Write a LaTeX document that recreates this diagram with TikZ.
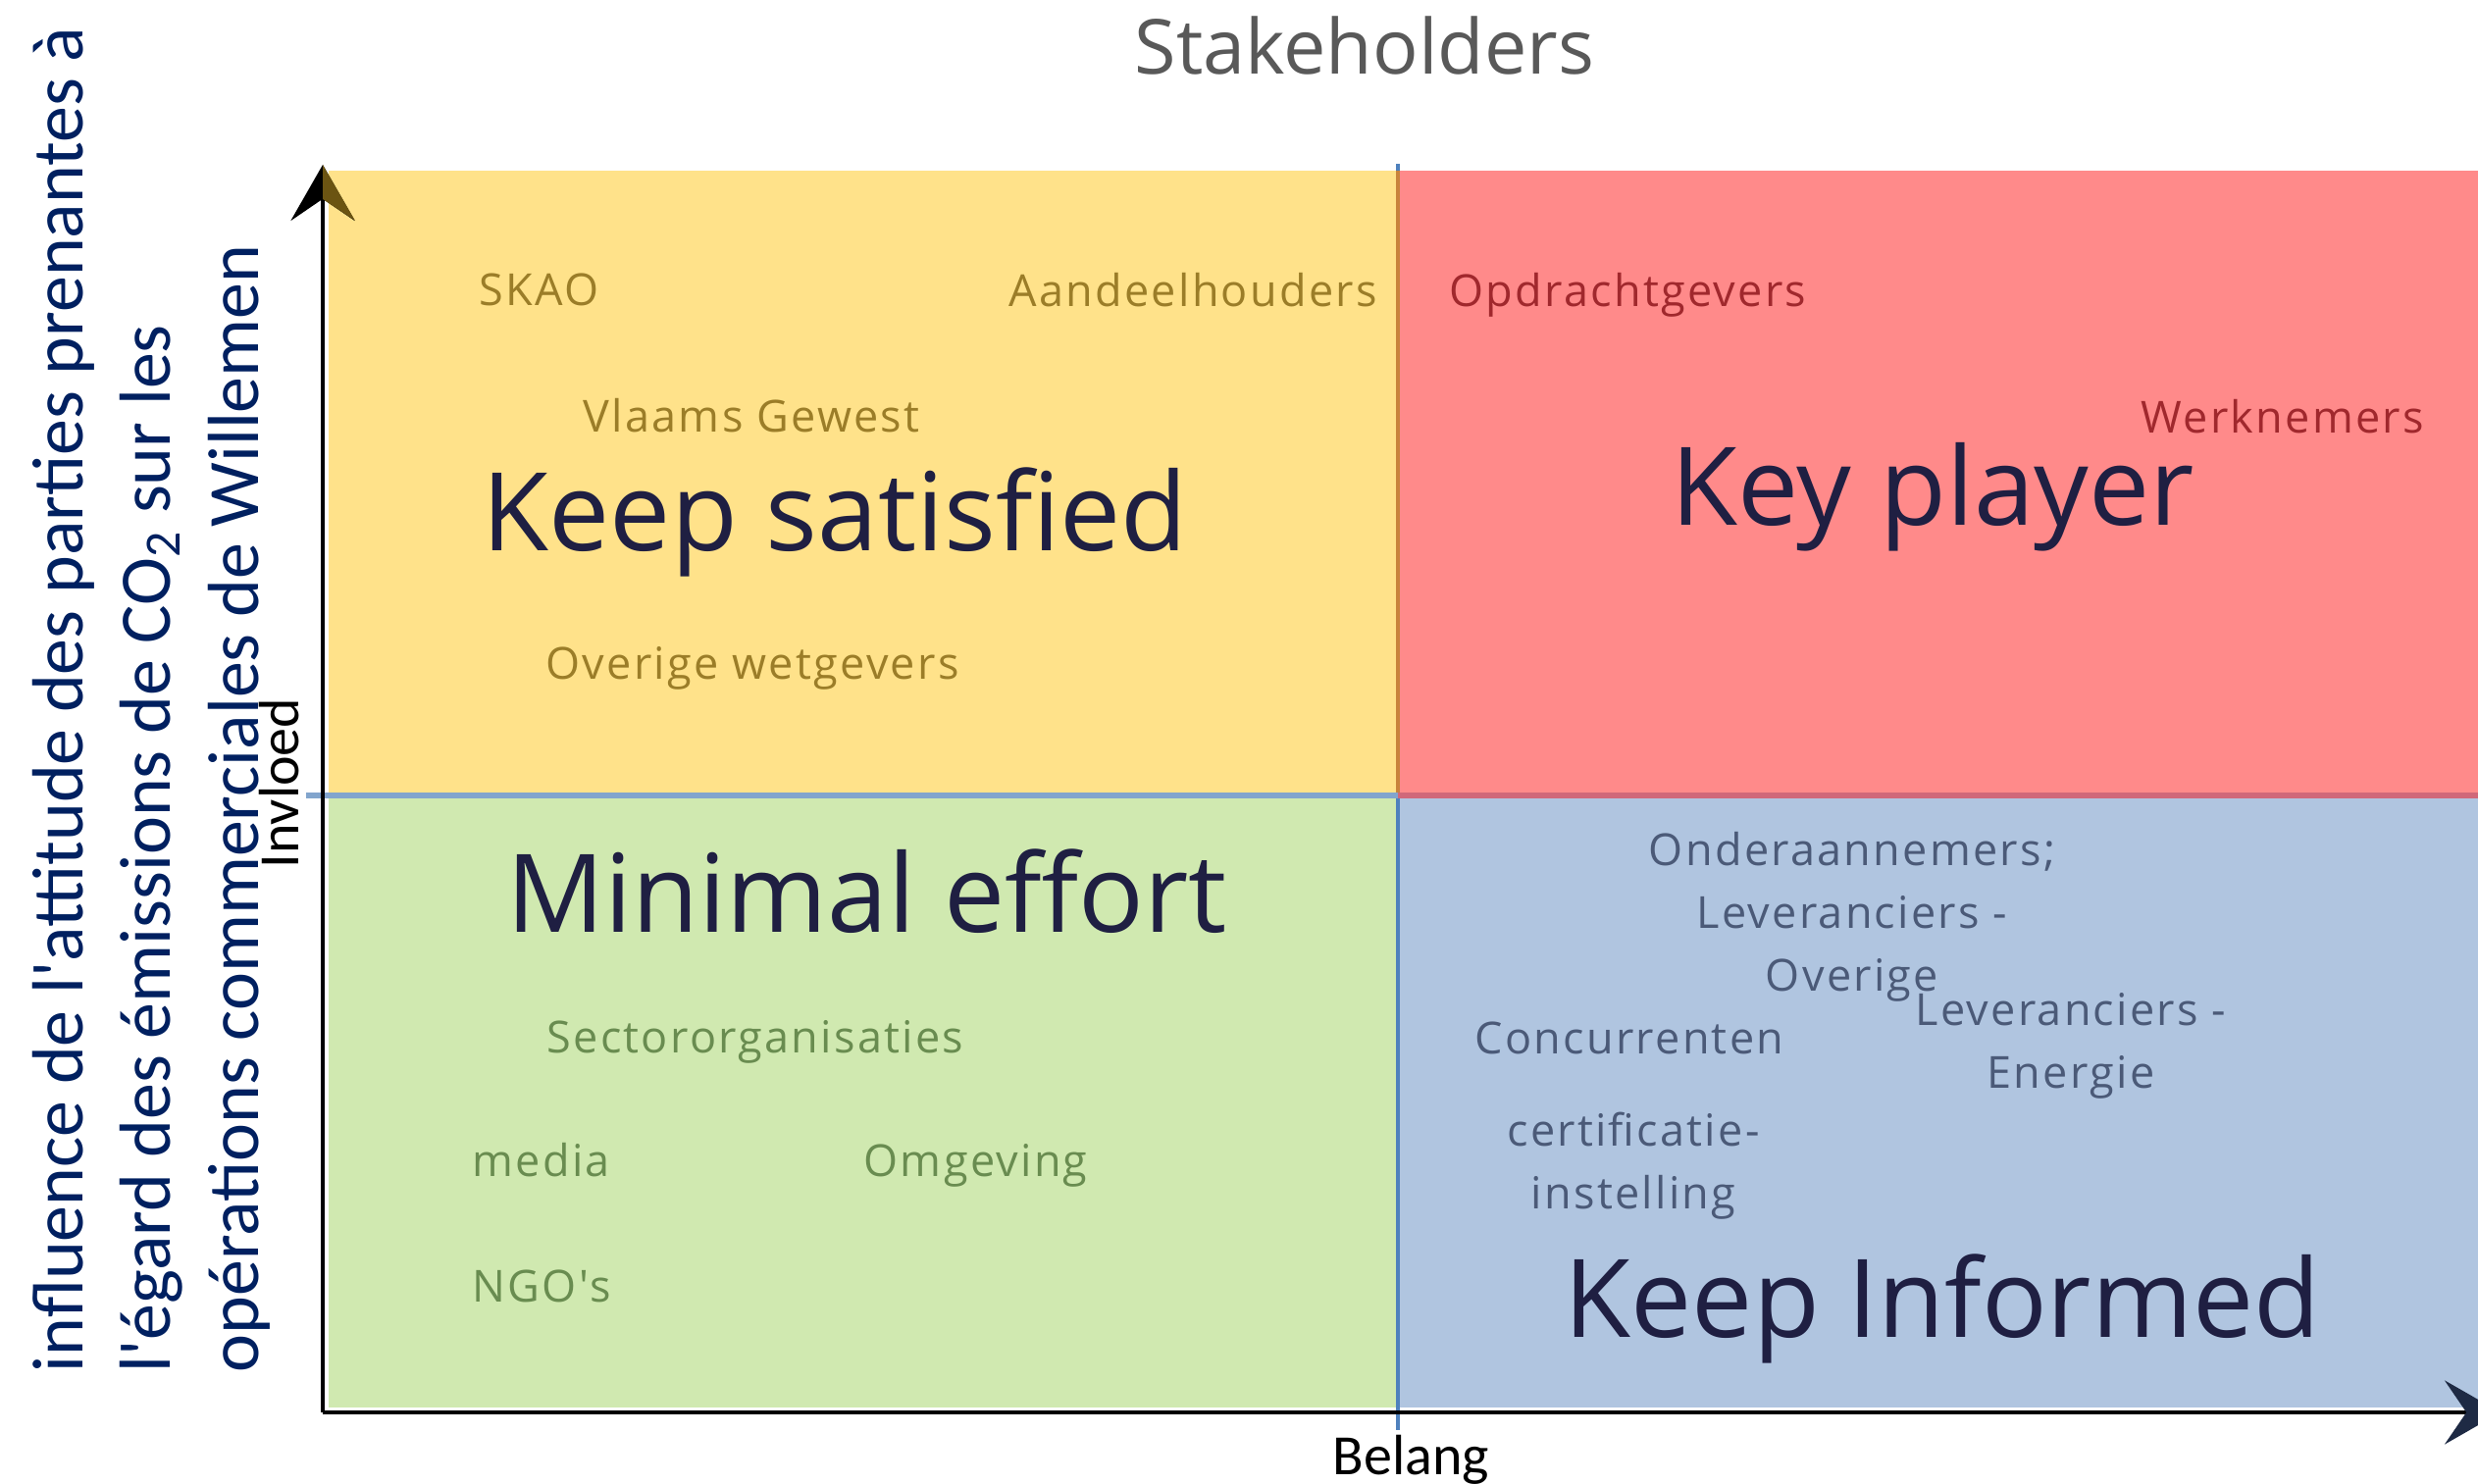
\documentclass[tikz,border=0pt]{standalone}
\usepackage{fontspec}
\setmainfont{Open Sans}[Ligatures=TeXOff]
\newfontfamily\calfont{Carlito}[Ligatures=TeXOff]
\newfontfamily\holderfont{Open Sans}[LetterSpace=5,Ligatures=TeXOff]
\usetikzlibrary{arrows.meta}

\definecolor{quadyellow}{RGB}{255,226,138}
\definecolor{quadred}{RGB}{255,138,138}
\definecolor{quadgreen}{RGB}{208,233,176}
\definecolor{quadblue}{RGB}{176,197,224}
\definecolor{txtyellow}{RGB}{155,125,40}
\definecolor{txtred}{RGB}{160,40,45}
\definecolor{txtgreen}{RGB}{105,140,80}
\definecolor{txtblue}{RGB}{75,90,120}
\definecolor{bigtxt}{RGB}{31,31,66}
\definecolor{titlegray}{RGB}{89,89,89}
\definecolor{axisblue}{RGB}{0,32,96}
\definecolor{linesteel}{RGB}{79,129,189}
\definecolor{linebrown}{RGB}{200,132,60}
\definecolor{lineleft}{RGB}{130,165,205}
\definecolor{linemauve}{RGB}{208,104,122}
\definecolor{arrowolive}{RGB}{107,84,18}
\definecolor{arrownavy}{RGB}{30,42,68}

\tikzstyle{every node}=[inner sep=0pt, anchor=base west]
\tikzstyle{holder}=[font=\holderfont\fontsize{12.8}{18.2}\selectfont]
\tikzstyle{quadlabel}=[font=\fontsize{31.5}{38}\selectfont, text=bigtxt]
\tikzstyle{axislabel}=[font=\calfont\fontsize{16.5}{20}\selectfont]
\tikzstyle{ytitle}=[font=\calfont\fontsize{21}{25}\selectfont, text=axisblue, rotate=90]
\tikzstyle{axisline}=[line width=1.2pt]

\begin{document}
\begin{tikzpicture}[x=0.01cm, y=-0.01cm]
\useasboundingbox (0,0) rectangle (2526,1513);

\fill[quadyellow] (335,174) rectangle (1425,810);
\fill[quadred] (1425,174) rectangle (2526,810);
\fill[quadgreen] (335,810) rectangle (1425,1435);
\fill[quadblue] (1425,810) rectangle (2526,1435);

\draw[linesteel, line width=0.9pt] (1425,167) -- (1425,1458);
\draw[linebrown, line width=1.1pt] (1425,174) -- (1425,808);
\draw[lineleft, line width=1.7pt] (312,811) -- (1425,811);
\draw[linemauve, line width=1.7pt] (1425,811) -- (2526,811);

\coordinate (origin) at (329,1440);
\coordinate (ytip) at (329,168);
\coordinate (xtip) at (2549,1440);
\draw[axisline, -{Stealth[length=16.2pt, width=18.5pt, inset=6.3pt]}] (origin) -- (ytip);
\fill[arrowolive] (ytip) -- (362,225) -- (329,203) -- cycle;
\draw[axisline, -{Stealth[length=16.2pt, width=18.5pt, inset=6.3pt, color=arrownavy]}] (origin) -- (xtip);

\node[font=\fontsize{22}{26}\selectfont, text=titlegray] (title) at (1156,76) {Stakeholders};

\node[ytitle] (ytitle1) at (84,1400) {influence de l'attitude des parties prenantes à};
\node[ytitle] (ytitle2) at (173,1400) {l'égard des émissions de CO\textsubscript{2} sur les};
\node[ytitle] (ytitle3) at (263,1400) {opérations commerciales de Willemen};
\node[axislabel, rotate=90] (invloed) at (304,886) {Invloed};
\node[axislabel] (belang) at (1358,1504) {Belang};

\node[holder, text=txtyellow] (skao) at (488,312) {SKAO};
\node[holder, text=txtyellow] (aandeel) at (1028,313) {Aandeelhouders};
\node[holder, text=txtyellow] (vlaams) at (594,441) {Vlaams Gewest};
\node[holder, text=txtyellow] (wetgevers) at (556,693) {Overige wetgevers};
\node[holder, text=txtred] (opdracht) at (1477,313) {Opdrachtgevers};
\node[holder, text=txtred] (werknemers) at (2182,442) {Werknemers};
\node[holder, text=txtgreen] (sector) at (557,1074) {Sectororganisaties};
\node[holder, text=txtgreen] (media) at (481,1200) {media};
\node[holder, text=txtgreen] (omgeving) at (880,1200) {Omgeving};
\node[holder, text=txtgreen] (ngo) at (481,1328) {NGO's};
\node[holder, text=txtblue, align=center, anchor=base] (onderaan) at (1888,1011) {Onderaannemers;\\Leveranciers -\\Overige};
\node[holder, text=txtblue, align=center, anchor=base] (energie) at (2111,1110) {Leveranciers -\\Energie};
\node[holder, text=txtblue] (concurrent) at (1503,1075) {Concurrenten};
\node[holder, text=txtblue, align=center, anchor=base] (certif) at (1665,1233) {certificatie-\\instelling};

\node[quadlabel] (satisfied) at (491,562) {Keep satisfied};
\node[quadlabel] (keyplayer) at (1703,536) {Key player};
\node[quadlabel] (minimal) at (516,951) {Minimal effort};
\node[quadlabel] (informed) at (1594,1364) {Keep Informed};
\end{tikzpicture}
\end{document}
